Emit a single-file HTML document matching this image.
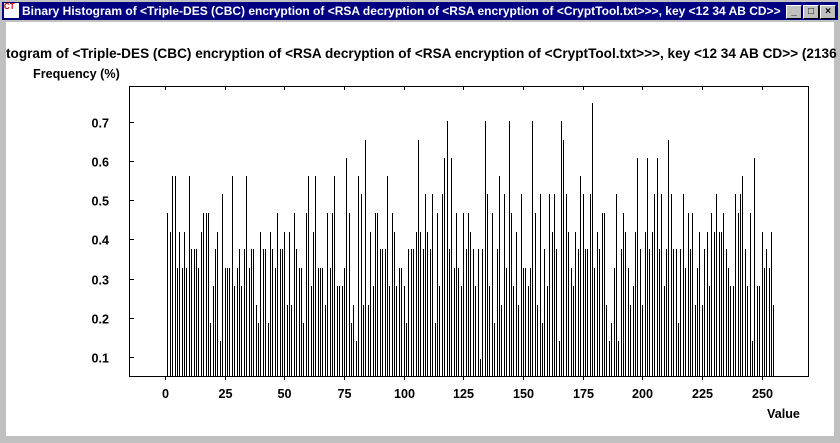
<!DOCTYPE html>
<html><head><meta charset="utf-8"><style>
body{margin:0;width:840px;height:443px;overflow:hidden;background:#c0c0c0;font-family:"Liberation Sans",sans-serif}
#win{position:absolute;left:0;top:0;width:840px;height:443px;background:#c0c0c0}
#titlebar{position:absolute;left:2px;top:2px;width:836px;height:18px;background:#000080;color:#fff;font-weight:bold;font-size:12px;line-height:18px}
#body{position:absolute;left:6px;top:22px;width:828px;height:414px;background:#fff;overflow:hidden}
.btn{position:absolute;top:3px;width:14px;height:12px;background:#c0c0c0;border:1px solid;border-color:#fff #000 #000 #fff;color:#000;font-size:10px;line-height:12px;text-align:center}
</style></head><body>
<div id="win">
<div id="titlebar">
<span style="position:absolute;left:2px;top:1px;width:15px;height:15px;background:#fff;color:#c00;font-size:8px;line-height:8px">CT</span>
<span style="position:absolute;left:20px">Binary Histogram of &lt;Triple-DES (CBC) encryption of &lt;RSA decryption of &lt;RSA encryption of &lt;CryptTool.txt&gt;&gt;&gt;, key &lt;12 34 AB CD&gt;&gt;</span>
<div class="btn" style="left:784px">_</div>
<div class="btn" style="left:801px">□</div>
<div class="btn" style="left:818px">×</div>
</div>
<div id="body"></div>
<svg id="chart" width="840" height="443" style="position:absolute;left:0;top:0"></svg>
</div>
<script>
const categories = Array.from({length:256},(_,i)=>i);
const frequencies = [
0.047,0.468,0.42,0.562,0.562,0.328,0.42,0.328,0.42,0.328,0.562,0.375,0.375,0.375,0.328,0.42,0.468,0.468,0.468,0.188,0.281,0.375,0.42,0.14,0.515,0.328,0.328,0.328,0.562,0.281,0.328,
0.375,0.281,0.375,0.562,0.328,0.375,0.375,0.234,0.188,0.42,0.375,0.375,0.188,0.42,0.375,0.328,0.468,0.375,0.375,0.42,0.234,0.42,0.234,0.468,0.375,0.328,0.328,0.188,0.468,0.562,0.281,0.42,0.562,
0.328,0.328,0.328,0.234,0.468,0.328,0.468,0.562,0.281,0.281,0.281,0.328,0.608,0.468,0.188,0.234,0.14,0.562,0.515,0.234,0.655,0.234,0.42,0.281,0.468,0.468,0.375,0.375,0.375,0.562,0.281,0.468,0.42,
0.281,0.328,0.328,0.281,0.188,0.375,0.375,0.375,0.42,0.655,0.42,0.375,0.515,0.42,0.375,0.515,0.188,0.468,0.281,0.515,0.608,0.702,0.375,0.608,0.328,0.468,0.328,0.281,0.468,0.375,0.468,0.42,0.375,
0.281,0.375,0.094,0.375,0.702,0.515,0.281,0.468,0.188,0.375,0.562,0.234,0.515,0.328,0.702,0.468,0.281,0.42,0.234,0.515,0.328,0.328,0.281,0.328,0.702,0.468,0.234,0.515,0.188,0.375,0.281,0.515,
0.42,0.515,0.375,0.14,0.702,0.655,0.515,0.42,0.328,0.281,0.42,0.375,0.562,0.515,0.375,0.375,0.515,0.749,0.328,0.42,0.375,0.468,0.468,0.234,0.14,0.188,0.328,0.515,0.14,0.375,0.468,0.42,0.328,
0.234,0.281,0.42,0.608,0.375,0.234,0.42,0.608,0.375,0.42,0.515,0.608,0.375,0.515,0.281,0.375,0.655,0.515,0.375,0.375,0.188,0.375,0.515,0.328,0.468,0.375,0.468,0.234,0.328,0.42,0.234,0.375,
0.42,0.281,0.468,0.42,0.515,0.42,0.42,0.468,0.375,0.328,0.281,0.281,0.515,0.468,0.515,0.562,0.375,0.281,0.468,0.14,0.608,0.281,0.281,0.42,0.328,0.375,0.328,0.42,0.234];
const yTicks = [0.1,0.2,0.3,0.4,0.5,0.6,0.7];
const xTicks = [0,25,50,75,100,125,150,175,200,225,250];
const NS='http://www.w3.org/2000/svg';
const svg=document.getElementById('chart');
const L=129,R=808,T=86,B=376;
const xs=v=>165+v*2.386;
const ys=v=>357-(v-0.1)*391.67;
function mk(tag,attrs){const e=document.createElementNS(NS,tag);for(const k in attrs)e.setAttribute(k,attrs[k]);svg.appendChild(e);return e;}
const fr=mk('rect',{x:L+0.5,y:T+0.5,width:R-L,height:B-T,fill:'none',stroke:'#000','stroke-width':1});


const tt=mk('text',{x:6,y:58,'font-size':'13.6','font-weight':'bold','font-family':'Liberation Sans, sans-serif'});
tt.textContent='togram of <Triple-DES (CBC) encryption of <RSA decryption of <RSA encryption of <CryptTool.txt>>>, key <12 34 AB CD>> (2136 bytes)';


const yl=mk('text',{x:33,y:78,'font-size':'12.6','font-weight':'bold','font-family':'Liberation Sans, sans-serif'});
yl.textContent='Frequency (%)';


const xl=mk('text',{x:767,y:418,'font-size':'12.6','font-weight':'bold','font-family':'Liberation Sans, sans-serif'});
xl.textContent='Value';


yTicks.forEach(t=>{const y=Math.round(ys(t))+0.5;
 const tk=mk('line',{x1:L,x2:L+5,y1:y,y2:y,stroke:'#000'});
 
 
 const lb=mk('text',{x:109,y:y+5,'text-anchor':'end','font-size':'12.6','font-weight':'bold','font-family':'Liberation Sans, sans-serif'});
 lb.textContent=t.toFixed(1);
 
 });
xTicks.forEach(t=>{const x=Math.round(xs(t))+0.5;
 const tk=mk('line',{x1:x,x2:x,y1:B,y2:B+4,stroke:'#000'});
 
 
 const tk2=mk('line',{x1:x,x2:x,y1:T,y2:T+4,stroke:'#000'});
 
 
 const lb=mk('text',{x:x,y:398,'text-anchor':'middle','font-size':'12.6','font-weight':'bold','font-family':'Liberation Sans, sans-serif'});
 lb.textContent=String(t);
 
 });
categories.forEach((c,i)=>{const v=frequencies[i];if(v==null)return;
 const x=Math.round(xs(c))+0.5;
 const y=Math.max(T,Math.round(ys(v)));
 const b=mk('line',{x1:x,x2:x,y1:B,y2:y,stroke:'#000','stroke-width':1});
 
 });
</script>
</body></html>
